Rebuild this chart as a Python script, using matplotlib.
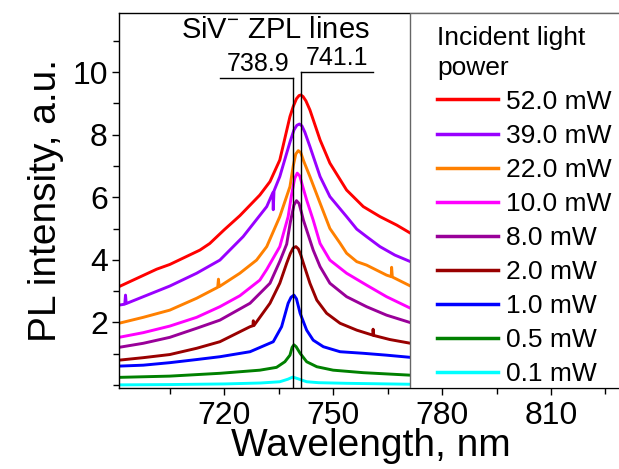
import numpy as np
import matplotlib
matplotlib.use('Agg')
import matplotlib.pyplot as plt
from matplotlib.patches import Rectangle
from matplotlib.ticker import MultipleLocator

plt.rcParams['font.family'] = ['Liberation Sans', 'DejaVu Sans']
plt.rcParams['mathtext.default'] = 'regular'

# spectra (wavelength in nm, PL in a.u.)
wl_52 = [691, 701.4, 705, 713.3, 716, 720, 724.3, 729.8, 732.6, 735.3, 738.1, 739.0,
         739.9, 740.6, 741.1, 741.7, 742.5, 743.6, 746.4, 749.1, 753.7, 758.3, 762.9,
         767.5, 771.3]
pl_52 = [3.14, 3.70, 3.85, 4.31, 4.52, 4.96, 5.41, 6.07, 6.50, 7.19, 8.58, 8.90,
         9.15, 9.25, 9.27, 9.22, 9.08, 8.79, 7.83, 7.09, 6.23, 5.70, 5.38,
         5.11, 4.85]

wl_39 = [691, 692.6, 692.8, 693.0, 697.7, 705, 712.4, 718.8, 725.2, 731.7, 733.4, 733.5,
         733.7, 735.3, 737.2, 738.2, 739.2, 740.0, 740.7, 741.4, 742.2, 743.6, 746.4,
         749.1, 753.7, 756.5, 759.2, 762.9, 767.0, 771.3]
pl_39 = [2.55, 2.58, 2.87, 2.60, 2.82, 3.16, 3.57, 3.99, 4.74, 5.70, 6.15, 5.60,
         6.20, 6.66, 7.41, 7.80, 8.15, 8.30, 8.34, 8.28, 8.08, 7.62, 6.66,
         6.02, 5.38, 4.98, 4.74, 4.42, 4.15, 3.94]

wl_22 = [691, 697.7, 705, 712.4, 718.2, 718.4, 718.6, 724.3, 728.9, 731.7, 735.3, 738.1,
         739.0, 739.7, 740.4, 741.1, 741.9, 743.6, 746.4, 749.1, 751.9, 753.7, 756.5,
         759.2, 764.7, 766.0, 766.1, 766.3, 771.3]
pl_22 = [1.97, 2.16, 2.39, 2.77, 3.12, 3.38, 3.14, 3.57, 3.99, 4.42, 5.38, 6.34,
         7.00, 7.38, 7.49, 7.42, 7.15, 6.66, 5.81, 5.00, 4.53, 4.21, 3.94,
         3.83, 3.51, 3.46, 3.76, 3.45, 3.16]

wl_10 = [691, 697.7, 705, 712.4, 718.8, 724.3, 729.8, 731.7, 735.3, 737.6, 738.5,
         739.4, 740.1, 740.8, 741.6, 742.7, 744.5, 746.4, 749.1, 753.7, 759.2, 764.7,
         771.3]
pl_10 = [1.52, 1.67, 1.88, 2.16, 2.50, 2.85, 3.35, 3.69, 4.42, 5.38, 6.05,
         6.60, 6.77, 6.68, 6.35, 5.91, 5.27, 4.52, 3.99, 3.57, 3.19, 2.82,
         2.45]

wl_8 = [691, 697.7, 705, 712.4, 718.8, 727.1, 732.6, 735.3, 737.2, 738.2, 739.2,
        739.9, 740.6, 741.3, 741.8, 742.7, 743.6, 744.5, 746.4, 749.1, 753.7, 759.2,
        764.7, 771.3]
pl_8 = [1.20, 1.33, 1.52, 1.81, 2.07, 2.61, 3.25, 3.95, 4.50, 5.20, 5.75,
        5.89, 5.80, 5.50, 5.27, 4.95, 4.63, 4.31, 3.78, 3.25, 2.82, 2.50,
        2.23, 1.99]

wl_2 = [691, 697.7, 705, 712.4, 718.8, 727.1, 727.9, 728.0, 728.2, 732.6, 735.3, 737.2,
        738.2, 739.0, 739.75, 740.4, 741.1, 741.8, 743.6, 745.5, 748.2, 751.9, 756.5,
        760.9, 761.0, 761.2, 765.6, 771.3]
pl_2 = [0.79, 0.87, 0.97, 1.17, 1.38, 1.86, 1.89, 2.05, 1.90, 2.61, 3.25, 3.89,
        4.20, 4.38, 4.42, 4.35, 4.15, 3.89, 3.25, 2.71, 2.29, 1.97, 1.75,
        1.59, 1.78, 1.58, 1.45, 1.33]

wl_1 = [691, 697.7, 705, 712.4, 718.8, 727.1, 733.5, 735.8, 737.6, 738.4, 739.2,
        739.9, 740.9, 742.7, 744.5, 747.3, 751.9, 758.3, 764.7, 771.3]
pl_1 = [0.60, 0.63, 0.71, 0.81, 0.90, 1.06, 1.38, 1.86, 2.61, 2.80, 2.87,
        2.75, 2.29, 1.75, 1.43, 1.22, 1.06, 1.01, 0.95, 0.88]

wl_05 = [691, 705, 718.8, 729.8, 734.4, 736.7, 738.1, 738.7, 739.2, 739.8, 740.9,
         742.7, 745.5, 750, 758.3, 771.3]
pl_05 = [0.24, 0.28, 0.37, 0.47, 0.56, 0.74, 0.95, 1.20, 1.28, 1.22, 1.01,
         0.74, 0.58, 0.47, 0.39, 0.31]

wl_01 = [691, 705, 720, 730, 735.3, 737.5, 738.9, 740.2, 742.7, 746, 753.7, 771.3]
pl_01 = [0.00, 0.01, 0.03, 0.06, 0.10, 0.18, 0.25, 0.20, 0.10, 0.07, 0.05, 0.02]

labels = ['52.0 mW', '39.0 mW', '22.0 mW', '10.0 mW', '8.0 mW',
          '2.0 mW', '1.0 mW', '0.5 mW', '0.1 mW']
colors = ['#ff0000', '#9900ff', '#ff8000', '#ff00ff', '#990099',
          '#990000', '#0000ff', '#008000', '#00ffff']
spectra = [(wl_52, pl_52), (wl_39, pl_39), (wl_22, pl_22), (wl_10, pl_10), (wl_8, pl_8),
           (wl_2, pl_2), (wl_1, pl_1), (wl_05, pl_05), (wl_01, pl_01)]

# SiV- zero phonon line markers
zpl_wl = [738.9, 741.1]
zpl_top = [9.8, 10.0]
zpl_arm = [-20, 20]

fig = plt.figure(figsize=(6.19, 4.69), dpi=100)
ax = fig.add_axes([0.1922, 0.1727, 1.0074 - 0.1922, 0.9729 - 0.1727])

for (w, p), c, lab in zip(spectra, colors, labels):
    ax.plot(w, p, color=c, lw=2.1, label=lab, zorder=2, solid_joinstyle='round')

for w, t, arm in zip(zpl_wl, zpl_top, zpl_arm):
    ax.plot([w, w], [-0.1, t], color='black', lw=1.0, zorder=4)
    ax.plot([w, w + arm], [t, t], color='black', lw=1.0, zorder=4)

ax.text(729.4, 10.05, '738.9', fontsize=18, ha='center', va='baseline')
ax.text(751.0, 10.22, '741.1', fontsize=18, ha='center', va='baseline')
ax.text(734.0, 11.1, 'SiV$^{-}$ ZPL lines', fontsize=21, ha='center', va='baseline')

ax.set_xlim(691, 830)
ax.set_ylim(-0.1, 11.9)
ax.xaxis.set_major_locator(MultipleLocator(30))
ax.xaxis.set_minor_locator(MultipleLocator(15))
ax.set_yticks([2, 4, 6, 8, 10])
ax.yaxis.set_minor_locator(MultipleLocator(1))
ax.tick_params(which='major', direction='out', length=5, width=1, labelsize=23)
ax.tick_params(which='minor', direction='out', length=4, width=1)
ax.tick_params(axis='x', pad=4)
ax.tick_params(axis='y', pad=3)
ax.set_xlabel('Wavelength, nm', fontsize=28, labelpad=-2)
ax.set_ylabel('PL intensity, a.u.', fontsize=28, labelpad=6)
for s in ax.spines.values():
    s.set_linewidth(1.0)

# legend box covering the long-wavelength part
ax.add_patch(Rectangle((771.3, -0.1), 80, 12.0, facecolor='white',
                       edgecolor='0.4', lw=1.0, zorder=5))
leg = ax.legend(loc='upper left', bbox_to_anchor=(437 / 619, 1 - 26 / 469),
                bbox_transform=fig.transFigure, frameon=False, fontsize=19,
                title='Incident light\npower', title_fontsize=19, alignment='left',
                handlelength=2.3, handletextpad=0.3, labelspacing=0.38,
                borderpad=0, borderaxespad=0)
leg.get_title().set_linespacing(1.3)
leg.set_zorder(6)
for line in leg.get_lines():
    line.set_linewidth(2.5)

fig.savefig('out.png', dpi=100)
